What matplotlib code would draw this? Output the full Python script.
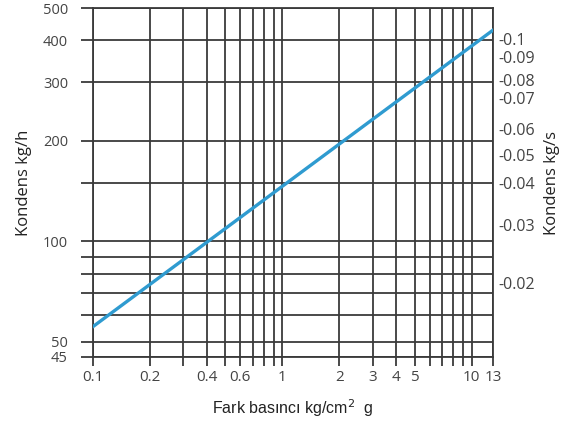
import matplotlib
matplotlib.use('agg')
import matplotlib.pyplot as plt

# data
pressure = [0.1, 13]          # Fark basinci kg/cm2 g
condensate = [55.5, 430]      # Kondens kg/h

x_grid = [0.1, 0.2, 0.3, 0.4, 0.5, 0.6, 0.7, 0.8, 0.9, 1, 2, 3, 4, 5, 6, 7, 8, 9, 10, 13]
x_labels = {0.1: '0.1', 0.2: '0.2', 0.4: '0.4', 0.6: '0.6', 1: '1', 2: '2', 3: '3',
            4: '4', 5: '5', 10: '10', 13: '13'}
y_grid = [45, 50, 60, 70, 80, 90, 100, 150, 200, 300, 400, 500]
y_labels = {45: '45', 50: '50', 100: '100', 200: '200', 300: '300', 400: '400', 500: '500'}

# right axis (kg/s), placed at the kg/h heights where they sit in the chart
right_pos = [403, 356, 304, 268, 217, 182, 150, 112, 75]
right_labels = ['-0.1', '-0.09', '-0.08', '-0.07', '-0.06', '-0.05', '-0.04', '-0.03', '-0.02']

plt.rcParams['font.family'] = ['Open Sans', 'DejaVu Sans']
grid_col = '#3a3a3a'
txt_col = '#444444'

fig = plt.figure(figsize=(5.67, 4.25), dpi=100)
ax = fig.add_axes([0.164, 0.16, 0.706, 0.821])
ax.set_xscale('log')
ax.set_yscale('log')
ax.set_xlim(0.1, 13)
ax.set_ylim(45, 500)

for v in x_grid:
    ax.axvline(v, color=grid_col, lw=1.3, zorder=1)
for v in y_grid:
    ax.axhline(v, color=grid_col, lw=1.3, zorder=1)

ax.plot(pressure, condensate, color='#2f9bd0', lw=2.4, zorder=3)

ax.xaxis.set_minor_locator(matplotlib.ticker.NullLocator())
ax.yaxis.set_minor_locator(matplotlib.ticker.NullLocator())
ax.set_xticks(x_grid, [x_labels.get(v, '') for v in x_grid])
ax.set_yticks(y_grid, [y_labels.get(v, '') for v in y_grid])
ax.tick_params(axis='x', length=6.5, width=1.3, color=grid_col,
               labelsize=11, labelcolor=txt_col, pad=3)
ax.tick_params(axis='y', length=9, width=1.3, color=grid_col,
               labelsize=10.5, labelcolor=txt_col, pad=9)

for s in ax.spines.values():
    s.set_color(grid_col)
    s.set_linewidth(1.3)

ax.set_ylabel('Kondens kg/h', fontsize=12, color='#222222', labelpad=8)
ax.set_xlabel('Fark bas\u0131nc\u0131 kg/cm$^2$  g', fontsize=11.5, color='#222222',
              family=['Liberation Sans', 'DejaVu Sans'], labelpad=9)

ax2 = ax.twinx()
ax2.set_yscale('log')
ax2.set_ylim(45, 500)
ax2.yaxis.set_minor_locator(matplotlib.ticker.NullLocator())
ax2.set_yticks(right_pos, right_labels)
ax2.tick_params(axis='y', length=0, labelsize=11.5, labelcolor=txt_col, pad=4)
for s in ax2.spines.values():
    s.set_visible(False)
ax2.set_ylabel('Kondens kg/s', fontsize=12, color='#222222', labelpad=6)

plt.savefig('out.png', dpi=100, facecolor='white')
